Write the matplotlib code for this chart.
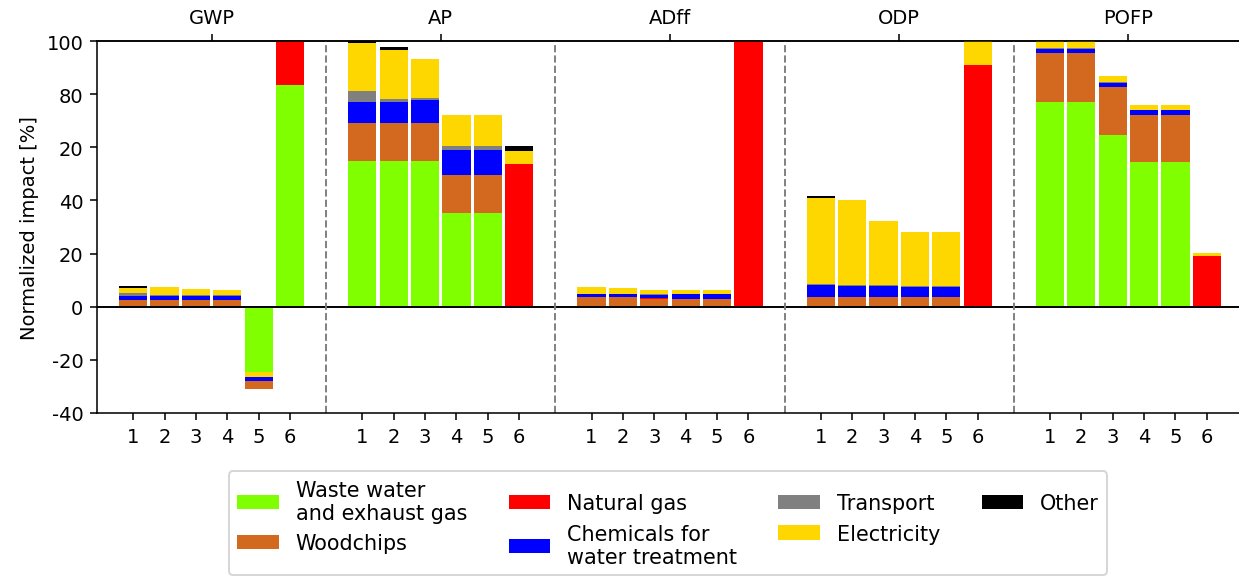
import numpy as np
import matplotlib
matplotlib.use("Agg")
import matplotlib.pyplot as plt

# impact categories and scenarios
impacts = ["GWP", "AP", "ADff", "ODP", "POFP"]
scenarios = ["1", "2", "3", "4", "5", "6"]

# contributions per source, 6 scenarios per impact (GWP, AP, ADff, ODP, POFP)
waste_water = [0, 0, 0, 0, -24.7, 83.3,
               54.8, 54.8, 54.8, 35.3, 35.3, 0,
               0, 0, 0, 0, 0, 0,
               0, 0, 0, 0, 0, 0,
               77.1, 77.1, 64.8, 54.3, 54.3, 0]
woodchips = [2.6, 2.6, 2.6, 2.6, -3.1, 0,
             14.4, 14.4, 14.4, 14.4, 14.4, 0,
             3.5, 3.5, 2.9, 2.9, 2.9, 0,
             3.5, 3.5, 3.5, 3.5, 3.5, 0,
             18.4, 18.4, 17.9, 17.7, 17.7, 0]
natural_gas = [0, 0, 0, 0, 0, 16.7,
               0, 0, 0, 0, 0, 53.6,
               0, 0, 0.4, 0, 0, 100,
               0, 0, 0, 0, 0, 91.1,
               0, 0, 0, 0, 0, 19.0]
chemicals = [1.5, 1.6, 1.5, 1.5, -1.5, 0,
             7.9, 8.0, 8.5, 9.4, 9.4, 0,
             1.1, 1.1, 1.2, 1.8, 1.8, 0,
             4.8, 4.4, 4.4, 4.0, 4.0, 0,
             1.4, 1.4, 1.5, 1.9, 1.9, 0]
transport = [0.9, 0.3, 0.3, 0.2, 0, 0,
             3.9, 1.1, 1.0, 1.3, 1.3, 0,
             0.3, 0.2, 0.2, 0.2, 0.2, 0,
             0.2, 0.2, 0.2, 0.2, 0.2, 0,
             0.3, 0.3, 0.3, 0.2, 0.2, 0]
electricity = [2.2, 2.8, 2.4, 1.9, -1.6, 0,
               18.4, 18.2, 14.6, 11.7, 11.7, 4.9,
               2.5, 2.1, 1.6, 1.4, 1.4, 0,
               32.3, 32.1, 24.3, 20.3, 20.3, 8.9,
               2.8, 2.8, 2.2, 1.9, 1.9, 1.2]
other = [0.75, 0, 0, 0, 0, 0,
         0.5, 1.2, 0, 0, 0, 1.9,
         0, 0, 0, 0, 0, 0,
         0.7, 0, 0, 0, 0, 0,
         0, 0, 0, 0, 0, 0]

sources = ["Waste water\nand exhaust gas", "Woodchips", "Natural gas",
           "Chemicals for\nwater treatment", "Transport", "Electricity", "Other"]
values = [waste_water, woodchips, natural_gas, chemicals, transport, electricity, other]
colors = ["#7fff00", "#d2691e", "#ff0000", "#0000ff", "#808080", "#ffd700", "#000000"]

ytick_vals = [-40, -20, 0, 20, 40, 60, 80, 100]
ytick_labels = ["-40", "-20", "0", "20", "40", "20", "80", "100"]

# x positions
S = 7.3
n = len(scenarios)
x = np.array([g * S + i for g in range(len(impacts)) for i in range(n)])
centers = [g * S + (n - 1) / 2 for g in range(len(impacts))]

# bottoms: positives stacked in source order, negatives in a different order
vals = np.array(values, dtype=float)
bottoms = np.zeros_like(vals)
pos = np.zeros(len(x))
for k in range(len(values)):
    v = vals[k]
    bottoms[k] = np.where(v >= 0, pos, bottoms[k])
    pos = pos + np.where(v > 0, v, 0)
neg = np.zeros(len(x))
for k in [0, 2, 6, 5, 4, 3, 1]:
    v = vals[k]
    bottoms[k] = np.where(v < 0, neg, bottoms[k])
    neg = neg + np.where(v < 0, v, 0)

fig = plt.figure(figsize=(1239 / 140, 577 / 140), dpi=140)
ax = fig.add_axes([97 / 1239, 1 - 414 / 577, 1146 / 1239, 372 / 577])

for k in range(len(values)):
    ax.bar(x, vals[k], 0.9, bottom=bottoms[k], color=colors[k], label=sources[k])

ax.axhline(0, color="k", lw=1)
for g in range(len(impacts) - 1):
    ax.axvline(centers[g] + S / 2, color="grey", ls="--", lw=1)

ax.set_xlim(centers[0] - S / 2, centers[-1] + S / 2)
ax.set_ylim(-40, 100)
ax.set_xticks(x, scenarios * len(impacts))
ax.set_yticks(ytick_vals, ytick_labels)
ax.set_ylabel("Normalized impact [%]")
ax.spines["right"].set_visible(False)

top = ax.secondary_xaxis("top")
top.set_xticks(centers, impacts)

fig.legend(loc="upper center", bbox_to_anchor=(668 / 1239, 1 - 462 / 577), ncol=4,
           fontsize=10.7)

fig.savefig("out.png", dpi=140)
